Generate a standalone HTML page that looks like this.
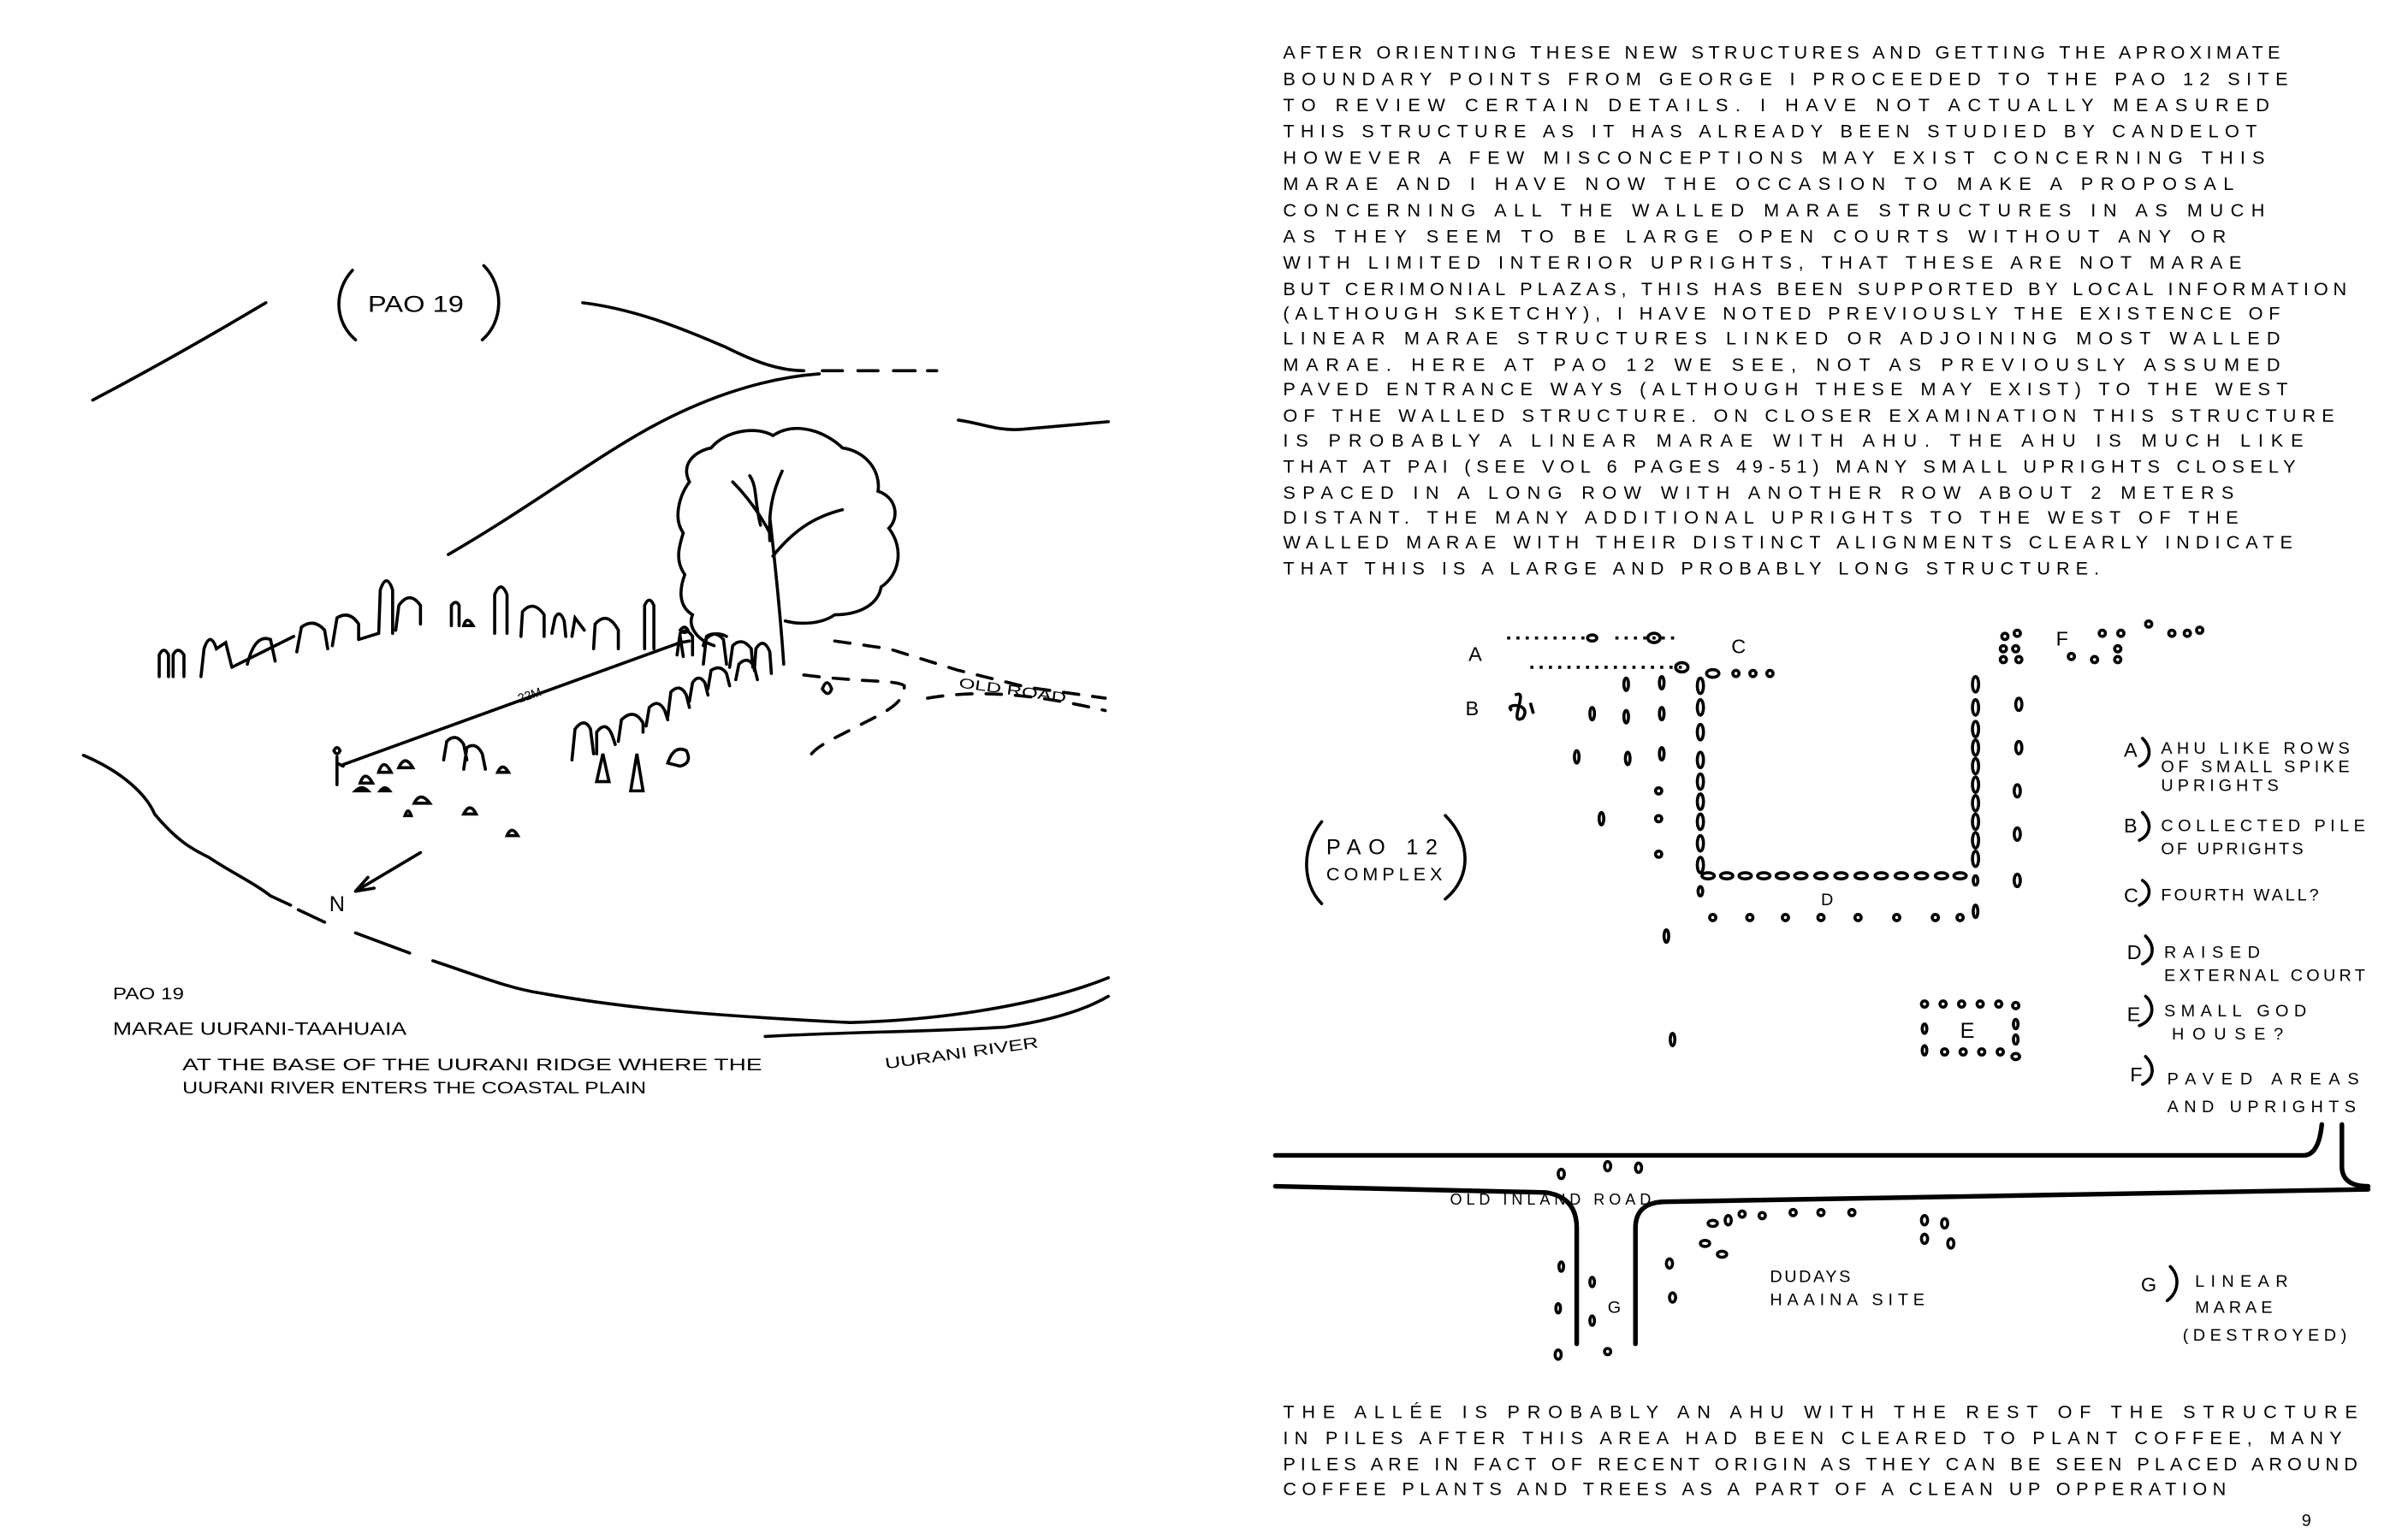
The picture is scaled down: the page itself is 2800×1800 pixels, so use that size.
<!DOCTYPE html>
<html><head><meta charset="utf-8"><style>
html,body{margin:0;padding:0;background:#fff;}
svg{display:block;}
text{font-family:"Liberation Sans",sans-serif;fill:#000;}
</style></head><body>
<svg width="2800" height="1800" viewBox="0 0 1550 997" preserveAspectRatio="none" xmlns="http://www.w3.org/2000/svg">
<rect width="1550" height="997" fill="#fff"/>
<g fill="none" stroke="#000" stroke-width="2" stroke-linecap="round">
<!-- hills left -->
<path d="M60,259 C100,238 140,215 172,196"/>
<path d="M377,196 C410,200 440,212 470,225 C490,235 505,240 520,240"/>
<path d="M532,240 L545,240 M555,240 L568,240 M578,240 L592,240 M600,240 L606,240"/>
<path d="M620,272 C635,274 645,279 660,278 L717,273"/>
<path d="M290,359 C340,330 380,300 415,280 C450,260 490,245 530,242"/>
<path d="M54,489 C80,500 95,515 100,527 C115,545 125,550 135,555 C150,565 165,572 175,580"/>
<path d="M175,580 L188,586 M193,589 L210,597 M230,604 L265,617"/>
<path d="M280,622 C310,632 330,640 350,643 C400,652 450,657 550,662 C620,660 680,648 717,633"/>
<path d="M495,671 C550,668 600,668 650,665 C685,660 705,652 717,645"/>
<path d="M272,552 L230,577 M230,577 L238,568 M230,577 L242,575"/>
<path d="M228,175 C216,188 216,208 230,220"/>
<path d="M313,172 C326,185 326,208 312,220"/>
<!-- tree -->
<path d="M507,430 C505,400 502,370 498,335 M498,345 C490,330 482,320 474,312 M500,360 C512,345 525,335 545,330 M498,350 C497,330 500,318 506,305 M492,340 C488,325 490,315 485,308"/>
<path d="M462,418 C450,414 445,405 448,398 C438,392 440,380 443,372 C436,362 440,352 442,345 C435,335 440,320 446,312 C440,300 450,292 460,290 C470,278 490,276 500,282 C515,272 535,280 545,290 C560,292 570,305 568,318 C580,322 582,335 575,342 C585,355 582,372 570,380 C568,392 555,398 540,398 C530,405 515,404 508,402 M470,412 C462,408 456,412 455,418"/>
<!-- stones back row -->
<path d="M103,438 L103,424 Q106,418 109,424 L109,438 M112,438 L112,424 Q115,418 119,424 L119,438 M130,438 L132,420 Q136,408 140,420 L146,416 L150,432 M150,432 L190,412 M160,430 Q165,410 175,414 L178,428 M192,422 L195,406 Q203,400 210,408 L212,420 M215,418 L218,400 Q226,395 232,404 L232,414 M232,414 L245,410 L246,382 Q250,370 254,382 L254,410 M256,408 L258,392 Q265,382 272,392 L272,404"/>
<path d="M292,405 L292,392 Q295,388 297,392 L297,405 M300,405 Q302,398 306,405 Z M320,410 L320,385 Q324,375 328,385 L328,410 M337,412 L338,396 Q345,388 352,398 L352,412 M357,410 L359,400 Q362,394 365,402 L366,412 M370,412 L372,400 L378,408 M384,420 L385,404 Q393,395 400,408 L400,420 M417,420 L417,392 Q420,385 423,392 L423,420 M438,424 L440,410 Q444,406 448,412 M448,424 L448,412 M455,430 L457,412 Q463,408 468,414 L470,430 M472,432 L474,418 Q480,412 486,420 L487,432 M488,434 L489,420 Q494,412 498,422 L499,436"/>
<!-- front row -->
<path d="M370,492 L372,472 Q378,464 382,472 L384,488 M386,488 L386,474 Q392,466 396,476 L398,482 M400,480 L402,466 Q410,458 416,468 L416,474 M418,470 L420,458 Q426,452 430,460 L432,466 M432,464 L434,448 Q440,442 444,450 L446,458 M446,454 L448,442 Q452,436 456,442 L458,450 M458,446 L460,434 Q466,430 470,436 L472,444 M476,440 L478,430 Q484,424 488,432 L490,440"/>
<path d="M386,506 L390,488 L394,506 Z M408,512 L412,488 L416,512 Z M432,494 Q436,482 444,486 Q448,494 440,496 Z"/>
<path d="M287,492 L289,480 Q295,474 300,482 L302,492 M300,498 L302,484 Q308,480 312,488 L314,498 M245,500 Q248,490 253,500 Z M258,497 Q262,488 267,497 Z M233,507 Q236,498 241,507 Z M322,500 Q325,493 329,500 Z M230,512 Q234,508 238,512 Z M268,520 Q272,512 278,520 Z M300,527 Q304,519 308,527 Z M328,541 Q331,534 335,541 Z M262,528 Q264,522 266,528 Z M246,512 Q249,508 252,512 Z M532,446 Q535,438 538,446 Q536,452 532,446 Z"/>
<!-- people -->
<path d="M218,490 L218,508 M218,494 L222,496 M216,486 Q218,482 220,486 Q218,490 216,486 M440,412 L442,425 M440,416 L446,415 M440,408 Q443,404 445,408 Q443,411 440,408"/>
<path d="M222,495 L440,416"/>
<!-- road left -->
<path stroke-dasharray="10,9" d="M540,415 L575,420 L620,434 L665,445 L715,452 M520,437 C560,442 580,440 585,444 C585,455 575,460 555,470 C540,478 530,482 525,488 M600,452 C640,445 680,452 715,460"/>
<!-- right page: road -->
<path stroke-width="3" d="M825,748 L1490,748 Q1500,748 1502,728"/>
<path stroke-width="3" d="M1515,728 L1515,755 Q1515,768 1532,768"/>
<path stroke-width="3" d="M825,768 L1000,772 Q1020,775 1020,795 L1020,870 M1058,870 L1058,795 Q1058,778 1078,778 L1532,770"/>
<!-- PAO 12 parens -->
<path d="M855,532 C842,548 842,572 855,585 M935,528 C952,545 952,568 935,582"/>
<path d="M1386,478 C1392,484 1392,492 1384,496 M1386,526 C1392,532 1392,540 1384,544 M1386,570 C1392,574 1392,582 1384,586 M1388,606 C1394,612 1394,620 1386,624 M1388,645 C1394,650 1394,660 1384,664 M1388,684 C1394,690 1394,698 1386,702 M1404,820 C1410,826 1410,836 1402,842"/>
</g>
<g fill="none" stroke="#000" stroke-width="2">
<ellipse cx="1100" cy="444" rx="2" ry="5"/><ellipse cx="1100" cy="458" rx="2" ry="5"/><ellipse cx="1100" cy="474" rx="2" ry="5"/><ellipse cx="1100" cy="492" rx="2" ry="5"/><ellipse cx="1100" cy="506" rx="2" ry="5"/><ellipse cx="1100" cy="519" rx="2" ry="5"/><ellipse cx="1100" cy="532" rx="2" ry="5"/><ellipse cx="1100" cy="546" rx="2" ry="5"/><ellipse cx="1100" cy="560" rx="2" ry="5"/>
<ellipse cx="1278" cy="443" rx="2" ry="5"/><ellipse cx="1278" cy="458" rx="2" ry="5"/><ellipse cx="1278" cy="472" rx="2" ry="5"/><ellipse cx="1278" cy="484" rx="2" ry="5"/><ellipse cx="1278" cy="496" rx="2" ry="5"/><ellipse cx="1278" cy="508" rx="2" ry="5"/><ellipse cx="1278" cy="520" rx="2" ry="5"/><ellipse cx="1278" cy="532" rx="2" ry="5"/><ellipse cx="1278" cy="544" rx="2" ry="5"/><ellipse cx="1278" cy="556" rx="2" ry="5"/>
<ellipse cx="1306" cy="456" rx="2" ry="4"/><ellipse cx="1306" cy="484" rx="2" ry="4"/><ellipse cx="1305" cy="512" rx="2" ry="4"/><ellipse cx="1305" cy="540" rx="2" ry="4"/><ellipse cx="1305" cy="570" rx="2" ry="4"/>
<ellipse cx="1105" cy="567" rx="4" ry="2"/><ellipse cx="1117" cy="567" rx="4" ry="2"/><ellipse cx="1129" cy="567" rx="4" ry="2"/><ellipse cx="1141" cy="567" rx="4" ry="2"/><ellipse cx="1153" cy="567" rx="4" ry="2"/><ellipse cx="1165" cy="567" rx="4" ry="2"/><ellipse cx="1178" cy="567" rx="4" ry="2"/><ellipse cx="1191" cy="567" rx="4" ry="2"/><ellipse cx="1204" cy="567" rx="4" ry="2"/><ellipse cx="1217" cy="567" rx="4" ry="2"/><ellipse cx="1230" cy="567" rx="4" ry="2"/><ellipse cx="1243" cy="567" rx="4" ry="2"/><ellipse cx="1256" cy="567" rx="4" ry="2"/><ellipse cx="1268" cy="567" rx="4" ry="2"/>
<ellipse cx="1108" cy="594" rx="2" ry="2"/><ellipse cx="1132" cy="594" rx="2" ry="2"/><ellipse cx="1155" cy="594" rx="2" ry="2"/><ellipse cx="1178" cy="594" rx="2" ry="2"/><ellipse cx="1202" cy="594" rx="2" ry="2"/><ellipse cx="1227" cy="594" rx="2" ry="2"/><ellipse cx="1252" cy="594" rx="2" ry="2"/><ellipse cx="1268" cy="594" rx="2" ry="2"/><ellipse cx="1278" cy="590" rx="1.5" ry="4"/><ellipse cx="1278" cy="570" rx="1.5" ry="3"/><ellipse cx="1100" cy="577" rx="1.5" ry="3"/>
<ellipse cx="1075" cy="442" rx="1.5" ry="4"/><ellipse cx="1075" cy="462" rx="1.5" ry="4"/><ellipse cx="1075" cy="488" rx="1.5" ry="4"/><ellipse cx="1073" cy="512" rx="2" ry="2"/><ellipse cx="1073" cy="530" rx="2" ry="2"/><ellipse cx="1073" cy="553" rx="2" ry="2"/><ellipse cx="1052" cy="443" rx="1.5" ry="4"/><ellipse cx="1052" cy="464" rx="1.5" ry="4"/><ellipse cx="1053" cy="491" rx="1.5" ry="4"/><ellipse cx="1030" cy="462" rx="1.5" ry="4"/><ellipse cx="1020" cy="490" rx="1.5" ry="4"/><ellipse cx="1036" cy="530" rx="1.5" ry="4"/><ellipse cx="1078" cy="606" rx="1.5" ry="4"/><ellipse cx="1082" cy="673" rx="1.5" ry="4"/>
<path d="M975,413 L1025,413 M1045,413 L1085,413 M990,432 L1090,432" stroke-dasharray="2,4"/>
<ellipse cx="1030" cy="413" rx="3" ry="2"/><ellipse cx="1070" cy="413" rx="4" ry="3"/><ellipse cx="1088" cy="432" rx="4" ry="3"/><ellipse cx="1108" cy="436" rx="4" ry="2.5"/><ellipse cx="1123" cy="436" rx="2" ry="2"/><ellipse cx="1134" cy="436" rx="2" ry="2"/><ellipse cx="1145" cy="436" rx="2" ry="2"/>
<path d="M980,450 C990,445 975,470 985,465 C992,455 972,455 978,460 M990,455 L992,462"/>
<ellipse cx="1297" cy="412" rx="2" ry="2"/><ellipse cx="1305" cy="410" rx="2" ry="2"/><ellipse cx="1296" cy="420" rx="2" ry="2"/><ellipse cx="1304" cy="420" rx="2" ry="2"/><ellipse cx="1296" cy="427" rx="2" ry="2"/><ellipse cx="1306" cy="427" rx="2" ry="2"/><ellipse cx="1360" cy="410" rx="2" ry="2"/><ellipse cx="1372" cy="410" rx="2" ry="2"/><ellipse cx="1390" cy="404" rx="2" ry="2"/><ellipse cx="1405" cy="410" rx="2" ry="2"/><ellipse cx="1415" cy="410" rx="2" ry="2"/><ellipse cx="1423" cy="408" rx="2" ry="2"/><ellipse cx="1370" cy="420" rx="2" ry="2"/><ellipse cx="1340" cy="425" rx="2" ry="2"/><ellipse cx="1355" cy="427" rx="2" ry="2"/><ellipse cx="1370" cy="427" rx="2" ry="2"/>
<ellipse cx="1245" cy="650" rx="2" ry="2"/><ellipse cx="1257" cy="650" rx="2" ry="2"/><ellipse cx="1269" cy="650" rx="2" ry="2"/><ellipse cx="1281" cy="650" rx="2" ry="2"/><ellipse cx="1293" cy="650" rx="2" ry="2"/><ellipse cx="1304" cy="651" rx="2" ry="2"/><ellipse cx="1304" cy="663" rx="1.5" ry="3"/><ellipse cx="1245" cy="666" rx="1.5" ry="3"/><ellipse cx="1304" cy="673" rx="1.5" ry="3"/><ellipse cx="1245" cy="680" rx="1.5" ry="3"/><ellipse cx="1258" cy="681" rx="2" ry="2"/><ellipse cx="1270" cy="681" rx="2" ry="2"/><ellipse cx="1282" cy="681" rx="2" ry="2"/><ellipse cx="1294" cy="681" rx="2" ry="2"/><ellipse cx="1304" cy="684" rx="2.5" ry="2"/>
<ellipse cx="1010" cy="760" rx="2" ry="3"/><ellipse cx="1040" cy="755" rx="2" ry="3"/><ellipse cx="1060" cy="756" rx="2" ry="3"/>
<ellipse cx="1108" cy="792" rx="3" ry="2"/><ellipse cx="1118" cy="790" rx="2" ry="3"/><ellipse cx="1127" cy="786" rx="2" ry="2"/><ellipse cx="1103" cy="805" rx="3" ry="2"/><ellipse cx="1114" cy="812" rx="3" ry="2"/><ellipse cx="1080" cy="818" rx="2" ry="3"/><ellipse cx="1082" cy="840" rx="2" ry="3"/><ellipse cx="1140" cy="787" rx="2" ry="2"/><ellipse cx="1160" cy="785" rx="2" ry="2"/><ellipse cx="1178" cy="785" rx="2" ry="2"/><ellipse cx="1198" cy="785" rx="2" ry="2"/><ellipse cx="1245" cy="790" rx="2" ry="3"/><ellipse cx="1258" cy="792" rx="2" ry="3"/><ellipse cx="1245" cy="802" rx="2" ry="3"/><ellipse cx="1262" cy="805" rx="2" ry="3"/><ellipse cx="1010" cy="820" rx="1.5" ry="3"/><ellipse cx="1008" cy="847" rx="1.5" ry="3"/><ellipse cx="1008" cy="877" rx="2" ry="3"/><ellipse cx="1030" cy="830" rx="1.5" ry="3"/><ellipse cx="1030" cy="855" rx="1.5" ry="3"/><ellipse cx="1040" cy="875" rx="2" ry="2"/>
</g>
<g font-size="13">
<text x="238" y="202" font-size="15" textLength="62" lengthAdjust="spacingAndGlyphs">PAO 19</text>
<text x="336" y="455" font-size="8" transform="rotate(-18 336 455)">22M</text>
<text x="213" y="590" font-size="14">N</text>
<text x="620" y="445" font-size="9" transform="rotate(8 620 445)" textLength="70" lengthAdjust="spacingAndGlyphs">OLD ROAD</text>
<text x="73" y="647" font-size="11" textLength="46" lengthAdjust="spacingAndGlyphs">PAO 19</text>
<text x="73" y="670" font-size="12" textLength="190" lengthAdjust="spacingAndGlyphs">MARAE UURANI-TAAHUAIA</text>
<text x="118" y="693" font-size="11" textLength="375" lengthAdjust="spacingAndGlyphs">AT THE BASE OF THE UURANI RIDGE WHERE THE</text>
<text x="118" y="708" font-size="11" textLength="300" lengthAdjust="spacingAndGlyphs">UURANI RIVER ENTERS THE COASTAL PLAIN</text>
<text x="573" y="692" font-size="10" transform="rotate(-8 573 692)" textLength="100" lengthAdjust="spacingAndGlyphs">UURANI RIVER</text>
</g>
<g font-size="12" lengthAdjust="spacingAndGlyphs">
<text x="830" y="38" textLength="645">AFTER ORIENTING THESE NEW STRUCTURES AND GETTING THE APROXIMATE</text>
<text x="830" y="55" textLength="650">BOUNDARY POINTS FROM GEORGE I PROCEEDED TO THE PAO 12 SITE</text>
<text x="830" y="72" textLength="638">TO REVIEW CERTAIN DETAILS. I HAVE NOT ACTUALLY MEASURED</text>
<text x="830" y="89" textLength="630">THIS STRUCTURE AS IT HAS ALREADY BEEN STUDIED BY CANDELOT</text>
<text x="830" y="106" textLength="635">HOWEVER A FEW MISCONCEPTIONS MAY EXIST CONCERNING THIS</text>
<text x="830" y="123" textLength="615">MARAE AND I HAVE NOW THE OCCASION TO MAKE A PROPOSAL</text>
<text x="830" y="140" textLength="635">CONCERNING ALL THE WALLED MARAE STRUCTURES IN AS MUCH</text>
<text x="830" y="157" textLength="610">AS THEY SEEM TO BE LARGE OPEN COURTS WITHOUT ANY OR</text>
<text x="830" y="174" textLength="620">WITH LIMITED INTERIOR UPRIGHTS, THAT THESE ARE NOT MARAE</text>
<text x="830" y="191" textLength="688">BUT CERIMONIAL PLAZAS, THIS HAS BEEN SUPPORTED BY LOCAL INFORMATION</text>
<text x="830" y="207" textLength="645">(ALTHOUGH SKETCHY), I HAVE NOTED PREVIOUSLY THE EXISTENCE OF</text>
<text x="830" y="223" textLength="645">LINEAR MARAE STRUCTURES LINKED OR ADJOINING MOST WALLED</text>
<text x="830" y="240" textLength="645">MARAE. HERE AT PAO 12 WE SEE, NOT AS PREVIOUSLY ASSUMED</text>
<text x="830" y="256" textLength="650">PAVED ENTRANCE WAYS (ALTHOUGH THESE MAY EXIST) TO THE WEST</text>
<text x="830" y="273" textLength="680">OF THE WALLED STRUCTURE. ON CLOSER EXAMINATION THIS STRUCTURE</text>
<text x="830" y="289" textLength="660">IS PROBABLY A LINEAR MARAE WITH AHU. THE AHU IS MUCH LIKE</text>
<text x="830" y="306" textLength="655">THAT AT PAI (SEE VOL 6 PAGES 49-51) MANY SMALL UPRIGHTS CLOSELY</text>
<text x="830" y="323" textLength="615">SPACED IN A LONG ROW WITH ANOTHER ROW ABOUT 2 METERS</text>
<text x="830" y="339" textLength="618">DISTANT. THE MANY ADDITIONAL UPRIGHTS TO THE WEST OF THE</text>
<text x="830" y="355" textLength="653">WALLED MARAE WITH THEIR DISTINCT ALIGNMENTS CLEARLY INDICATE</text>
<text x="830" y="372" textLength="528">THAT THIS IS A LARGE AND PROBABLY LONG STRUCTURE.</text>
<text x="830" y="918" textLength="695">THE ALLÉE IS PROBABLY AN AHU WITH THE REST OF THE STRUCTURE</text>
<text x="830" y="935" textLength="685">IN PILES AFTER THIS AREA HAD BEEN CLEARED TO PLANT COFFEE, MANY</text>
<text x="830" y="952" textLength="695">PILES ARE IN FACT OF RECENT ORIGIN AS THEY CAN BE SEEN PLACED AROUND</text>
<text x="830" y="968" textLength="610">COFFEE PLANTS AND TREES AS A PART OF A CLEAN UP OPPERATION</text>
</g>
<g font-size="13" lengthAdjust="spacingAndGlyphs">
<text x="1489" y="988" font-size="11">9</text>
<text x="950" y="428">A</text><text x="948" y="463">B</text><text x="1120" y="423">C</text><text x="1330" y="418">F</text><text x="1178" y="586" font-size="11">D</text><text x="1268" y="672" font-size="14">E</text><text x="1040" y="850" font-size="11">G</text>
<text x="858" y="553" font-size="14" textLength="72">PAO 12</text>
<text x="858" y="570" font-size="12" textLength="75">COMPLEX</text>
<text x="1374" y="490">A</text><text x="1398" y="488" font-size="11" textLength="122">AHU LIKE ROWS</text>
<text x="1398" y="500" font-size="11" textLength="122">OF SMALL SPIKE</text>
<text x="1398" y="512" font-size="11" textLength="76">UPRIGHTS</text>
<text x="1374" y="539">B</text><text x="1398" y="538" font-size="11" textLength="132">COLLECTED PILE</text>
<text x="1398" y="553" font-size="11" textLength="92">OF UPRIGHTS</text>
<text x="1374" y="584">C</text><text x="1398" y="583" font-size="11" textLength="102">FOURTH WALL?</text>
<text x="1376" y="621">D</text><text x="1400" y="620" font-size="11" textLength="62">RAISED</text>
<text x="1400" y="635" font-size="11" textLength="130">EXTERNAL COURT</text>
<text x="1376" y="661">E</text><text x="1400" y="658" font-size="11" textLength="92">SMALL GOD</text>
<text x="1405" y="673" font-size="11" textLength="72">HOUSE?</text>
<text x="1378" y="700">F</text><text x="1402" y="702" font-size="11" textLength="124">PAVED AREAS</text>
<text x="1402" y="720" font-size="11" textLength="122">AND UPRIGHTS</text>
<text x="1385" y="836">G</text><text x="1420" y="833" font-size="11" textLength="60">LINEAR</text>
<text x="1420" y="850" font-size="11" textLength="50">MARAE</text>
<text x="1412" y="868" font-size="11" textLength="106">(DESTROYED)</text>
<text x="938" y="780" font-size="10" textLength="130">OLD INLAND ROAD</text>
<text x="1145" y="830" font-size="11" textLength="52">DUDAYS</text>
<text x="1145" y="845" font-size="11" textLength="100">HAAINA SITE</text>
</g>
</svg>
</body></html>
